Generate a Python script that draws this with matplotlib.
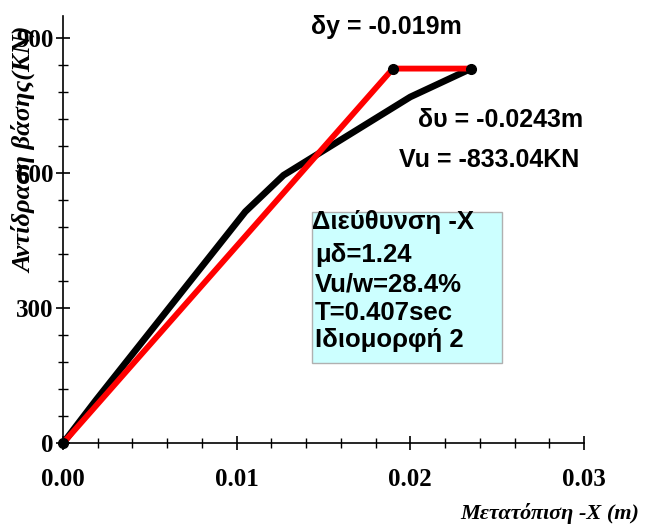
import matplotlib
matplotlib.use("Agg")
import matplotlib.pyplot as plt
from matplotlib.patches import Rectangle
from matplotlib.ticker import MultipleLocator

# pushover curve (capacity) and bilinear idealisation
curve_x = [0.0, 0.0019, 0.0105, 0.0127, 0.0200, 0.0235]
curve_v = [0.0, 96, 515, 596, 770, 833]
bilin_x = [0.0, 0.019, 0.0235]
bilin_v = [0.0, 833.04, 833.04]
dots_x = [0.0, 0.019, 0.0235]
dots_v = [0.0, 833.04, 833.04]

box_title = "Διεύθυνση -X"
box_lines = ["μδ=1.24", "Vu/w=28.4%", "T=0.407sec", "Ιδιομορφή 2"]

fig = plt.figure(figsize=(6.48, 5.24), dpi=100)
ax = fig.add_axes([0.0972, 0.154, 0.804, 0.8155])

ax.plot(curve_x, curve_v, color='black', lw=4.8, solid_joinstyle='round', zorder=3)
ax.plot(bilin_x, bilin_v, color='#ff0000', lw=4.2, zorder=4)
ax.plot(dots_x, dots_v, 'o', color='black', ms=7, zorder=5, clip_on=False)

ax.set_xlim(0, 0.03)
ax.set_ylim(0, 950)
ax.xaxis.set_major_locator(MultipleLocator(0.01))
ax.xaxis.set_minor_locator(MultipleLocator(0.002))
ax.yaxis.set_major_locator(MultipleLocator(300))
ax.yaxis.set_minor_locator(MultipleLocator(60))
ax.xaxis.set_major_formatter(matplotlib.ticker.FormatStrFormatter('%.2f'))

for s in ['top', 'right']:
    ax.spines[s].set_visible(False)
for s in ['left', 'bottom']:
    ax.spines[s].set_linewidth(1.2)

tickfont = dict(family='Liberation Serif', weight='bold', size=18)
ax.tick_params(which='major', direction='inout', length=10, width=1.2)
ax.tick_params(which='minor', direction='inout', length=7, width=1.0)
ax.tick_params(axis='x', which='major', pad=13)
ax.tick_params(axis='y', which='major', pad=2)
for lab in ax.get_xticklabels() + ax.get_yticklabels():
    lab.set_fontproperties(matplotlib.font_manager.FontProperties(**tickfont))

ax.set_ylabel("Αντίδραση βάσης(KN)", family='Liberation Serif', style='italic',
              weight='bold', size=19)
ax.yaxis.set_label_coords(-0.052, 0.686)
ax.set_xlabel("Μετατόπιση -X (m)", family='Liberation Serif', style='italic',
              weight='bold', size=16)
ax.xaxis.set_label_coords(0.935, -0.14)

txt = dict(family='Liberation Sans', weight='bold', size=18)
ax.text(0.0186, 925, "δy = -0.019m", ha='center', va='center', **txt)
ax.text(0.02044, 718, "δυ = -0.0243m", ha='left', va='center', **txt)
ax.text(0.01934, 629, "Vu = -833.04KN", ha='left', va='center', **txt)

boxtxt = dict(family='Liberation Sans', weight='bold', size=18.5)
ax.add_patch(Rectangle((0.01432, 178), 0.01094, 337, facecolor='#ccffff',
                       edgecolor='#b0b0b0', lw=1, zorder=2))
ax.text(0.01433, 491, box_title, ha='left', va='center', zorder=6, **boxtxt)
for yv, line in zip([418, 352, 290, 230], box_lines):
    ax.text(0.01451, yv, line, ha='left', va='center', zorder=6, **boxtxt)

fig.savefig("out.png", dpi=100)
